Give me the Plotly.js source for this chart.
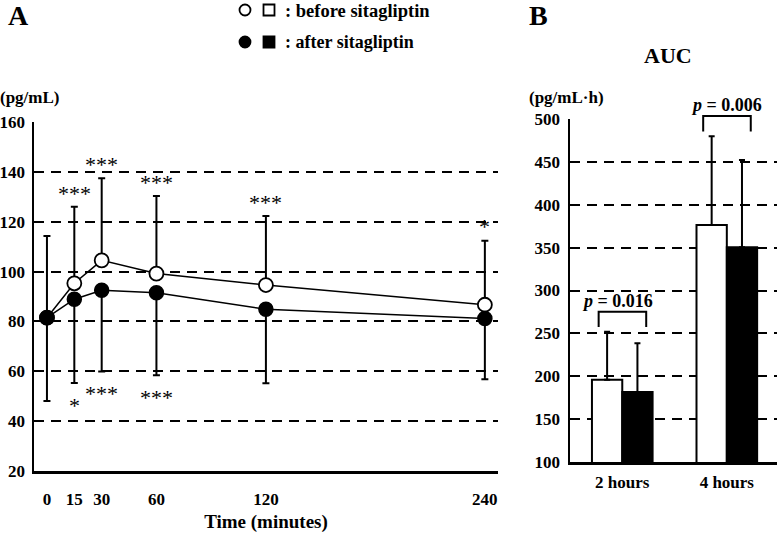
<!DOCTYPE html>
<html>
<head>
<meta charset="utf-8">
<script src="https://cdn.plot.ly/plotly-3.0.1.min.js"></script>
<style>
  html, body { margin: 0; padding: 0; background: #fff; }
  #chart { width: 780px; height: 533px; }
</style>
</head>
<body>
<div id="chart"></div>
<script>
// Panel A: concentration over time
const minutes = [0, 15, 30, 60, 120, 240];
const beforeMean = [81.5, 95.3, 104.5, 99.2, 94.6, 86.7];
const beforeSdUp = [32.8, 30.7, 32.9, 31.1, 27.7, 25.7];
const afterMean = [81.5, 88.9, 92.5, 91.5, 84.9, 81.2];
const afterSdDown = [33.4, 33.6, 32.6, 33.1, 29.7, 24.4];

// significance marks (above = before sitagliptin, below = after)
const starsAbove = [null, '***', '***', '***', '***', '*'];
const starsBelow = [null, '*', '***', '***', null, null];

// Panel B: AUC
const aucCategories = ['2 hours', '4 hours'];
const aucBefore = [195.8, 376.5];
const aucBeforeSd = [56, 103.5];
const aucAfter = [181.5, 350.5];
const aucAfterSd = [57, 101.7];
const pValues = ['0.016', '0.006'];

const serif = 'Liberation Serif, Times New Roman, serif';
const W = 780, H = 533;

// domains in pixels -> paper fractions
const xDomA = [34 / W, 498 / W];
const yDomA = [(H - 471) / H, (H - 122) / H];
const xDomB = [570 / W, 777 / W];
const yDomB = [(H - 462) / H, (H - 119) / H];
const yRangeB = [100, 500];

function yPaperB(v) {
  return yDomB[0] + (v - yRangeB[0]) / (yRangeB[1] - yRangeB[0]) * (yDomB[1] - yDomB[0]);
}

const traces = [
  {
    x: minutes, y: beforeMean,
    mode: 'lines+markers',
    name: 'before sitagliptin',
    line: { color: '#000', width: 1.5 },
    marker: { symbol: 'circle', size: 14, color: '#fff', line: { color: '#000', width: 1.8 } },
    error_y: { type: 'data', symmetric: false, array: beforeSdUp, arrayminus: beforeSdUp.map(() => 0), color: '#000', thickness: 2, width: 3.5 },
    xaxis: 'x', yaxis: 'y',
    showlegend: false,
  },
  {
    x: minutes, y: afterMean,
    mode: 'lines+markers',
    name: 'after sitagliptin',
    line: { color: '#000', width: 1.5 },
    marker: { symbol: 'circle', size: 14, color: '#000', line: { color: '#000', width: 1.5 } },
    error_y: { type: 'data', symmetric: false, array: afterSdDown.map(() => 0), arrayminus: afterSdDown, color: '#000', thickness: 2, width: 3.5 },
    xaxis: 'x', yaxis: 'y',
    showlegend: false,
  },
  {
    type: 'bar',
    x: aucCategories, y: aucBefore,
    name: 'before sitagliptin',
    marker: { color: '#fff', line: { color: '#000', width: 2 } },
    error_y: { type: 'data', symmetric: false, array: aucBeforeSd, arrayminus: [0, 0], color: '#000', thickness: 2, width: 3 },
    xaxis: 'x2', yaxis: 'y2',
    showlegend: false,
  },
  {
    type: 'bar',
    x: aucCategories, y: aucAfter,
    name: 'after sitagliptin',
    marker: { color: '#000', line: { color: '#000', width: 2 } },
    error_y: { type: 'data', symmetric: false, array: aucAfterSd, arrayminus: [0, 0], color: '#000', thickness: 2, width: 3 },
    xaxis: 'x2', yaxis: 'y2',
    showlegend: false,
  },
];

const annotations = [];
const shapes = [];

function paperText(text, px, py, size, extra) {
  annotations.push(Object.assign({
    xref: 'paper', yref: 'paper', x: px / W, y: 1 - py / H,
    xanchor: 'center', yanchor: 'middle',
    text, showarrow: false,
    font: { family: serif, size, color: '#000', weight: 'bold' },
  }, extra || {}));
}

// significance stars in panel A (1 data unit ~ 2.5 px)
minutes.forEach((t, i) => {
  if (starsAbove[i]) {
    annotations.push({
      xref: 'x', yref: 'y', x: t, y: beforeMean[i] + beforeSdUp[i] + 5.5,
      xanchor: 'center', yanchor: 'middle', text: starsAbove[i], showarrow: false,
      font: { family: serif, size: 22, color: '#000' },
    });
  }
  if (starsBelow[i]) {
    annotations.push({
      xref: 'x', yref: 'y', x: t, y: afterMean[i] - afterSdDown[i] - 9,
      xanchor: 'center', yanchor: 'middle', text: starsBelow[i], showarrow: false,
      font: { family: serif, size: 22, color: '#000' },
    });
  }
});

// p-value brackets in panel B
aucCategories.forEach((c, i) => {
  const top = Math.max(aucBefore[i] + aucBeforeSd[i], aucAfter[i] + aucAfterSd[i]) + 23.5;
  const leg = top - 18;
  const y0 = yPaperB(leg), y1 = yPaperB(top);
  shapes.push({
    type: 'path', xref: 'x2', yref: 'paper',
    path: `M ${i - 0.226},${y0} L ${i - 0.226},${y1} L ${i + 0.229},${y1} L ${i + 0.229},${y0}`,
    line: { color: '#000', width: 2 },
  });
  annotations.push({
    xref: 'x2', yref: 'paper', x: i, y: y1 - 0.002, xanchor: 'center', yanchor: 'bottom',
    xshift: i === 0 ? -5 : 0,
    text: `<i>p</i> = ${pValues[i]}`, showarrow: false,
    font: { family: serif, size: 18, color: '#000', weight: 'bold' },
  });
});

paperText('A', 18, 16, 28);
paperText('B', 538, 16, 28);
paperText('AUC', 668, 56, 22);
paperText('(pg/mL)', 30, 97, 17);
paperText('(pg/mL·h)', 566, 98, 17);
paperText(': before sitagliptin', 283, 11, 18.5, { xanchor: 'left' });
paperText(': after sitagliptin', 283, 42, 18, { xanchor: 'left' });

// legend keys drawn as shapes in paper space
function key(type, cx, cy, filled) {
  shapes.push({
    type, xref: 'paper', yref: 'paper',
    x0: (cx - 5.5) / W, x1: (cx + 5.5) / W,
    y0: 1 - (cy + 5.5) / H, y1: 1 - (cy - 5.5) / H,
    line: { color: '#000', width: 1.8 },
    fillcolor: filled ? '#000' : '#fff',
  });
}
key('circle', 245, 10, false);
key('rect', 269, 10, false);
key('circle', 245, 42, true);
key('rect', 269, 42, true);

const axisFont = { family: serif, size: 17, color: '#000', weight: 'bold' };

const layout = {
  width: W, height: H,
  paper_bgcolor: '#fff', plot_bgcolor: '#fff',
  margin: { l: 0, r: 0, t: 0, b: 0 },
  showlegend: false,
  barmode: 'group', bargap: 0.42, bargroupgap: 0,
  xaxis: {
    domain: xDomA, range: [-7.1, 247.2],
    tickvals: minutes, ticktext: minutes.map(String),
    showgrid: false, zeroline: false,
    showline: true, linecolor: '#000', linewidth: 2.5,
    ticks: '', ticklabelstandoff: 11,
    tickfont: axisFont,
    title: { text: 'Time (minutes)', font: { family: serif, size: 19, color: '#000', weight: 'bold' }, standoff: 8 },
    anchor: 'y',
  },
  yaxis: {
    domain: yDomA, range: [20, 160], dtick: 20,
    showgrid: true, gridcolor: '#000', gridwidth: 2, griddash: '10px,7px',
    zeroline: false,
    showline: true, linecolor: '#000', linewidth: 2.5,
    ticks: '', ticklabelstandoff: 3,
    tickfont: axisFont,
    anchor: 'x',
  },
  xaxis2: {
    domain: xDomB, range: [-0.5, 1.48], type: 'category',
    showgrid: false, zeroline: false,
    showline: true, linecolor: '#000', linewidth: 2.5,
    ticks: '', ticklabelstandoff: 3,
    tickfont: axisFont,
    anchor: 'y2',
  },
  yaxis2: {
    domain: yDomB, range: yRangeB, dtick: 50,
    showgrid: true, gridcolor: '#000', gridwidth: 2, griddash: '10px,7px',
    zeroline: false,
    showline: true, linecolor: '#000', linewidth: 2.5,
    ticks: '', ticklabelstandoff: 4,
    tickfont: axisFont,
    anchor: 'x2',
  },
  annotations,
  shapes,
};

Plotly.newPlot('chart', traces, layout, { displayModeBar: false, staticPlot: true });
</script>
</body>
</html>
